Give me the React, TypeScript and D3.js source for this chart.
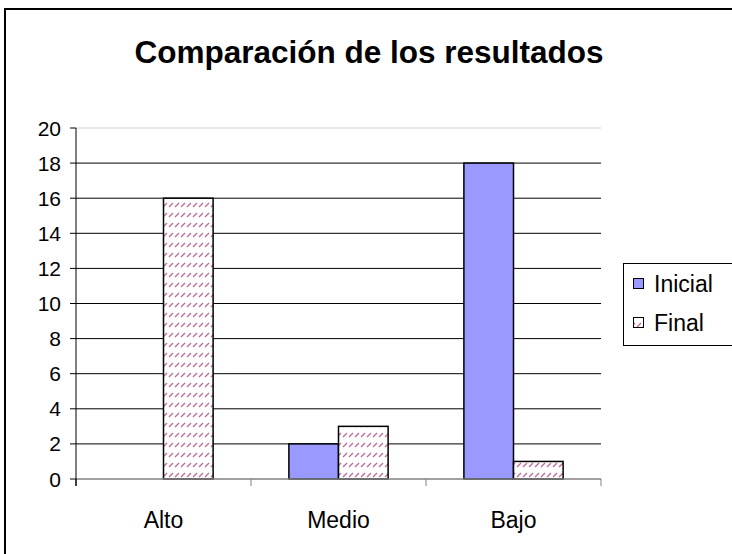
import React from "react";
import * as d3 from "d3";

const categories = ["Alto", "Medio", "Bajo"];
const seriesNames = ["Inicial", "Final"];
const inicial = [0, 2, 18];
const final = [16, 3, 1];
const yTicks = [0, 2, 4, 6, 8, 10, 12, 14, 16, 18, 20];
const title = "Comparación de los resultados";

const FONT = "'Liberation Sans', Arial, sans-serif";

export default function App() {
  const W = 732, H = 554;
  const left = 76, right = 601, top = 128, bottom = 479;
  const x = d3.scaleBand<string>().domain(categories).range([left, right]).paddingInner(0).paddingOuter(0);
  const y = d3.scaleLinear().domain([0, 20]).range([bottom, top]);
  const bw = x.bandwidth();
  const barW = bw * 0.2835;
  const gapSide = (bw - 2 * barW) / 2;
  const values = [inicial, final];
  const colors = ["#9999FF", "url(#hatch)"];

  return (
    <svg width={W} height={H} style={{ position: "absolute", left: 0, top: 0, background: "#fff" }}>
      <defs>
        <pattern id="hatch" width={6} height={10} patternUnits="userSpaceOnUse">
          <rect width={6} height={10} fill="#fff" />
          <line x1={1} y1={7} x2={5} y2={3} stroke="#c0689a" strokeWidth={1.3} />
        </pattern>
      </defs>
      <rect x={5} y={9} width={760} height={600} fill="#fff" stroke="#000" strokeWidth={2} />
      <text x={369} y={63} textAnchor="middle" fontFamily={FONT} fontWeight="bold" fontSize={31.5} fill="#000">
        {title}
      </text>
      {yTicks.map((t) => (
        <g key={t}>
          {t > 0 && (
            <line x1={left} x2={right} y1={y(t)} y2={y(t)} stroke={t === 20 ? "#d0d0d0" : "#000"} strokeWidth={1} />
          )}
          <line x1={left - 6} x2={left} y1={y(t)} y2={y(t)} stroke="#000" strokeWidth={1} />
          <text x={61} y={y(t)} dy="0.36em" textAnchor="end" fontFamily={FONT} fontSize={21} fill="#000">
            {t}
          </text>
        </g>
      ))}
      {categories.map((c, i) =>
        values.map((vals, s) => {
          const bx = (x(c) as number) + gapSide + s * barW;
          const v = vals[i];
          if (v <= 0) return null;
          return (
            <rect key={c + s} x={bx} y={y(v)} width={barW} height={bottom - y(v)} fill={colors[s]} stroke="#000" strokeWidth={1.5} />
          );
        })
      )}
      <line x1={left} x2={right} y1={bottom} y2={bottom} stroke="#808080" strokeWidth={1.5} />
      {[...categories.map((c) => x(c) as number), right].map((px, i) => (
        <line key={i} x1={px} x2={px} y1={bottom} y2={bottom + 7} stroke={i === 0 ? "#000" : "#808080"} strokeWidth={1} />
      ))}
      <line x1={left} x2={left} y1={top} y2={bottom + 7} stroke="#000" strokeWidth={1} />
      {categories.map((c) => (
        <text key={c} x={(x(c) as number) + bw / 2} y={520} dy="0.36em" textAnchor="middle" fontFamily={FONT} fontSize={23} fill="#000">
          {c}
        </text>
      ))}
      <rect x={623.5} y={263.5} width={120} height={82} fill="#fff" stroke="#000" strokeWidth={1} />
      {seriesNames.map((n, s) => (
        <g key={n}>
          <rect x={633.5} y={278.5 + s * 39} width={10} height={10} fill={colors[s]} stroke="#000" strokeWidth={1} />
          <text x={654} y={284 + s * 39} dy="0.36em" fontFamily={FONT} fontSize={23} fill="#000">
            {n}
          </text>
        </g>
      ))}
    </svg>
  );
}
